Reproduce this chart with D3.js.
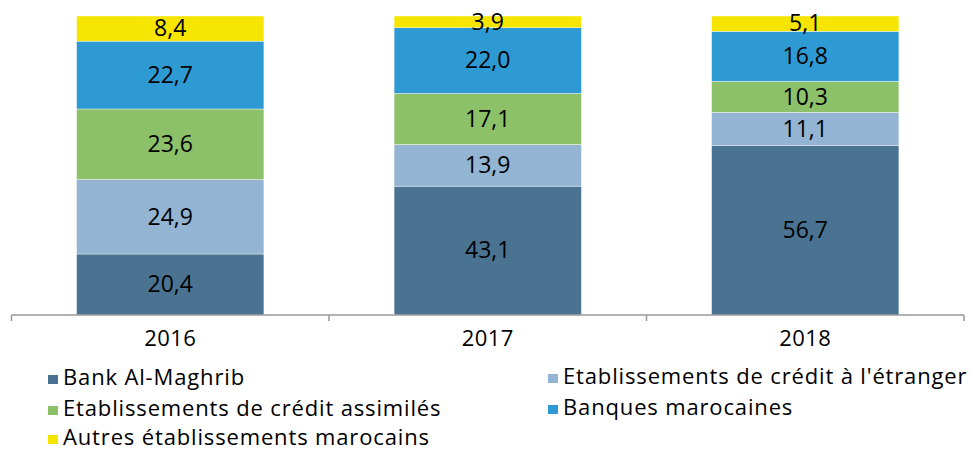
<!DOCTYPE html>
<html>
<head>
  <meta charset="UTF-8">
  <script src="https://d3js.org/d3.v7.min.js"></script>
  <style>
    body { margin: 0; background: #fff; }
    text { font-family: "Open Sans", sans-serif; }
  </style>
</head>
<body>
<div id="chart"></div>
<script>
const years = ["2016", "2017", "2018"];
const series = ["Bank Al-Maghrib", "Etablissements de crédit à l'étranger", "Etablissements de crédit assimilés", "Banques marocaines", "Autres établissements marocains"];
const bankAlMaghrib = [20.4, 43.1, 56.7];
const creditEtranger = [24.9, 13.9, 11.1];
const creditAssimiles = [23.6, 17.1, 10.3];
const banquesMarocaines = [22.7, 22.0, 16.8];
const autresMarocains = [8.4, 3.9, 5.1];
const colors = ["#4a7392", "#93b4d2", "#8cc169", "#2e9ad3", "#f5e500"];

const values = [bankAlMaghrib, creditEtranger, creditAssimiles, banquesMarocaines, autresMarocains];
const rows = years.map((y, i) => {
  const r = { year: y };
  series.forEach((s, k) => r[s] = values[k][i]);
  return r;
});

const width = 972, height = 450;
const svg = d3.select("#chart").append("svg")
  .attr("width", width).attr("height", height);

const x = d3.scaleBand().domain(years).range([11.5, 964])
  .paddingInner(0.41).paddingOuter(0.205);
const y = d3.scaleLinear().domain([0, 100]).range([315, 16]);

const stacked = d3.stack().keys(series)(rows);
const fmt = v => d3.format(".1f")(v).replace(".", ",");

const layer = svg.selectAll(".layer")
  .data(stacked).enter().append("g")
  .attr("fill", (d, i) => colors[i]);

layer.selectAll("rect")
  .data(d => d).enter().append("rect")
  .attr("x", d => x(d.data.year))
  .attr("y", d => y(d[1]))
  .attr("width", x.bandwidth())
  .attr("height", d => y(d[0]) - y(d[1]))
  .attr("stroke", "#ffffff").attr("stroke-width", 0.4);

layer.selectAll("text")
  .data(d => d).enter().append("text")
  .attr("x", d => x(d.data.year) + x.bandwidth() / 2)
  .attr("y", d => (y(d[0]) + y(d[1])) / 2)
  .attr("dy", "0.34em")
  .attr("text-anchor", "middle")
  .attr("fill", "#000")
  .style("font-size", "23px")
  .text(d => fmt(d[1] - d[0]));

// axis
const ax = svg.append("g").attr("transform", "translate(0,315)");
ax.append("line").attr("x1", 11.5).attr("x2", 964).attr("stroke", "#999").attr("stroke-width", 1.5);
const edges = [x.range()[0]].concat(years.map(yr => x(yr) + x.bandwidth() / 2 + x.step() / 2));
ax.selectAll(".tick").data(edges).enter().append("line")
  .attr("x1", d => d).attr("x2", d => d).attr("y1", 0).attr("y2", 6)
  .attr("stroke", "#999").attr("stroke-width", 1.5);
ax.selectAll(".lbl").data(years).enter().append("text")
  .attr("x", d => x(d) + x.bandwidth() / 2)
  .attr("y", 31)
  .attr("text-anchor", "middle")
  .style("font-size", "22px").style("letter-spacing", "0.4px")
  .text(d => d);

// legend
const legendPos = [[48, 385], [548, 384], [48, 416], [548, 415], [48, 445]];
const lg = svg.selectAll(".leg").data(series).enter().append("g")
  .attr("transform", (d, i) => `translate(${legendPos[i][0]},${legendPos[i][1]})`);
lg.append("rect").attr("x", 0).attr("y", -10).attr("width", 10).attr("height", 9)
  .attr("fill", (d, i) => colors[i]);
lg.append("text").attr("x", 15)
  .style("font-size", "22px").style("letter-spacing", "0.85px").text(d => d);
</script>
</body>
</html>
